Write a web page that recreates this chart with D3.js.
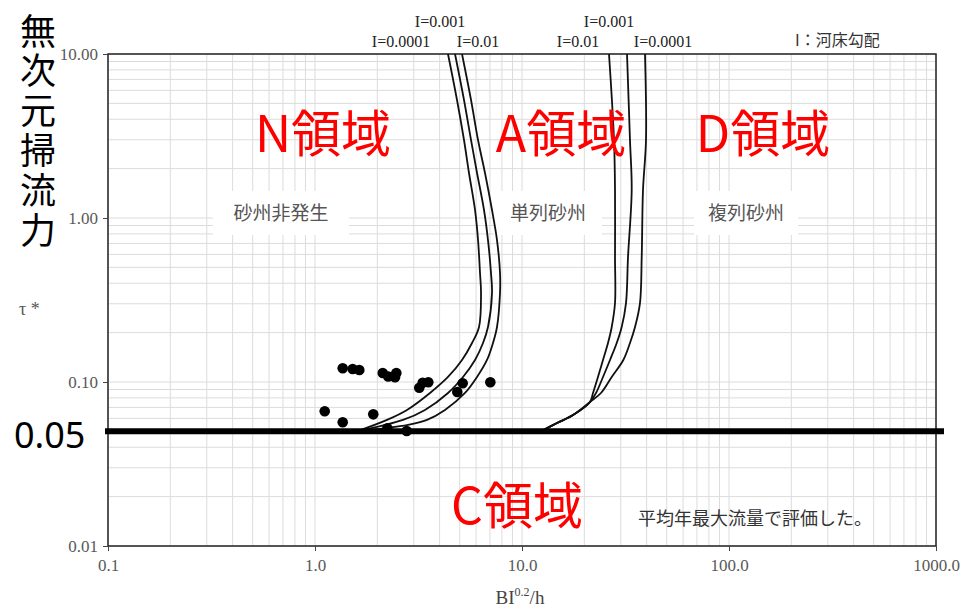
<!DOCTYPE html>
<html><head><meta charset="utf-8">
<script src="https://cdn.jsdelivr.net/npm/d3@7"></script>
<style>body{margin:0;background:#fff;} svg{display:block;}</style>
</head><body><svg id="chart" width="964" height="607"></svg>
<script>
// ---------- data ----------
const xTickValues = [0.1, 1, 10, 100, 1000];
const xTickLabels = ["0.1", "1.0", "10.0", "100.0", "1000.0"];
const yTickValues = [0.01, 0.1, 1, 10];
const yTickLabels = ["0.01", "0.10", "1.00", "10.00"];
const thresholdTau = 0.05;

// observed points (BI^0.2/h, tau*)
const pointsBI  = [1.114, 1.361, 1.361, 1.521, 1.637, 1.912, 2.124, 2.260, 2.471, 2.435, 2.236, 2.773, 3.190, 3.313, 3.527, 4.869, 5.170, 7.031];
const pointsTau = [0.0663, 0.0568, 0.1212, 0.1200, 0.1183, 0.0635, 0.1134, 0.1080, 0.1134, 0.1068, 0.0522, 0.0503, 0.0923, 0.0990, 0.0996, 0.0869, 0.0982, 0.0996];

// N / A boundary curves
const boundaryNA_I0001 = [[1.596,0.05],[2.228,0.0587],[2.782,0.0675],[3.594,0.0857],[4.39,0.1073],[5.131,0.1362],[5.736,0.1729],[6.200,0.2165],[6.339,0.349],[6.269,0.462],[6.132,0.734],[5.930,1.119],[5.546,1.881],[5.246,2.989],[4.853,5.243],[4.39,10]];
const boundaryNA_I001  = [[1.596,0.05],[2.661,0.0587],[3.399,0.0675],[4.39,0.0857],[5.188,0.1073],[5.930,0.1362],[6.481,0.1729],[6.850,0.2165],[7.163,0.349],[7.083,0.462],[6.850,0.734],[6.553,1.119],[6.064,1.881],[5.672,2.989],[5.246,5.243],[4.747,10]];
const boundaryNA_I01   = [[1.596,0.05],[2.814,0.0547],[3.476,0.0587],[4.246,0.0675],[5.304,0.0857],[6.064,0.1073],[6.775,0.1362],[7.242,0.1729],[7.572,0.2165],[7.830,0.349],[7.830,0.462],[7.572,0.734],[7.163,1.119],[6.626,1.881],[6.132,2.989],[5.672,5.243],[5.131,10]];

// A / D boundary curves
const boundaryAD_I01   = [[12.35,0.05],[14.76,0.0562],[17.64,0.0629],[21.30,0.0755],[22.03,0.0857],[23.28,0.1073],[24.62,0.1362],[26.03,0.1729],[27.13,0.2165],[28.14,0.303],[28.14,0.578],[28.14,1.482],[27.83,2.989],[26.32,10]];
const boundaryAD_I001  = [[12.35,0.05],[14.76,0.0562],[17.64,0.0629],[21.30,0.0755],[22.78,0.0857],[24.62,0.1073],[26.62,0.1362],[28.68,0.1729],[30.31,0.2165],[31.80,0.303],[32.52,0.578],[33.88,1.482],[33.24,2.989],[32.16,10]];
const boundaryAD_I0001 = [[12.35,0.05],[14.76,0.0562],[17.64,0.0629],[21.30,0.0755],[24.07,0.0857],[27.13,0.1073],[30.86,0.1362],[33.24,0.1729],[35.16,0.2165],[37.15,0.303],[37.87,0.578],[38.42,1.482],[39.72,2.989],[39.28,10]];

// ---------- drawing ----------
const svg = d3.select("#chart");
const W = 964, H = 607;
svg.append("rect").attr("width", W).attr("height", H).attr("fill", "#fff");

const x = d3.scaleLog().domain([0.1, 1000]).range([108, 936]);
const y = d3.scaleLog().domain([0.01, 10]).range([546, 54]);

const serif = "'Liberation Serif', 'DejaVu Serif', serif";
const cjk = "'Noto Sans CJK JP', 'Noto Sans', sans-serif";

// grid
const grid = svg.append("g");
grid.selectAll("line.vx").data(x.ticks()).join("line")
  .attr("x1", d => x(d)).attr("x2", d => x(d))
  .attr("y1", y(10)).attr("y2", y(0.01))
  .attr("stroke", "#dcdcdc").attr("stroke-width", 1);
grid.selectAll("line.hy").data(y.ticks()).join("line")
  .attr("x1", x(0.1)).attr("x2", x(1000))
  .attr("y1", d => y(d)).attr("y2", d => y(d))
  .attr("stroke", "#dcdcdc").attr("stroke-width", 1);

// white label boxes + gray labels
const boxLabels = [
  {t: "砂州非発生", cx: 281, w: 136},
  {t: "単列砂州", cx: 548, w: 108},
  {t: "複列砂州", cx: 746, w: 104}
];
boxLabels.forEach(b => {
  svg.append("rect").attr("x", b.cx - b.w / 2).attr("y", 191).attr("width", b.w).attr("height", 44).attr("fill", "#fff");
  svg.append("text").attr("x", b.cx).attr("y", 220).attr("text-anchor", "middle")
    .attr("font-family", cjk).attr("font-size", 19).attr("fill", "#555").text(b.t);
});

// frame
svg.append("rect").attr("x", x(0.1)).attr("y", y(10))
  .attr("width", x(1000) - x(0.1)).attr("height", y(0.01) - y(10))
  .attr("fill", "none").attr("stroke", "#222").attr("stroke-width", 1.5);

// axes ticks
const xAxis = d3.axisBottom(x).tickValues(xTickValues).tickSize(5).tickPadding(8)
  .tickFormat((d, i) => xTickLabels[i]);
const gx = svg.append("g").attr("transform", `translate(0,${y(0.01)})`).call(xAxis);
gx.select(".domain").remove();
gx.selectAll("line").attr("stroke", "#444");
gx.selectAll("text").attr("font-family", serif).attr("font-size", 17).attr("fill", "#595959");

const yAxis = d3.axisLeft(y).tickValues(yTickValues).tickSize(5).tickPadding(5)
  .tickFormat((d, i) => yTickLabels[i]);
const gy = svg.append("g").attr("transform", `translate(${x(0.1)},0)`).call(yAxis);
gy.select(".domain").remove();
gy.selectAll("line").attr("stroke", "#444");
gy.selectAll("text").attr("font-family", serif).attr("font-size", 17).attr("fill", "#595959");

// curves
const line = d3.line().x(d => x(d[0])).y(d => y(d[1])).curve(d3.curveCatmullRom.alpha(0.5));
[boundaryNA_I0001, boundaryNA_I001, boundaryNA_I01, boundaryAD_I01, boundaryAD_I001, boundaryAD_I0001]
  .forEach(c => svg.append("path").attr("d", line(c)).attr("fill", "none")
    .attr("stroke", "#111").attr("stroke-width", 1.8));

// points
svg.append("g").selectAll("circle").data(pointsBI).join("circle")
  .attr("cx", d => x(d)).attr("cy", (d, i) => y(pointsTau[i])).attr("r", 5.3).attr("fill", "#000");

// threshold line
svg.append("line").attr("x1", x(0.1) - 3).attr("x2", x(1000) + 8)
  .attr("y1", y(thresholdTau)).attr("y2", y(thresholdTau))
  .attr("stroke", "#000").attr("stroke-width", 6);

// slope labels
const slopeLabels = [
  {t: "I=0.0001", cx: 401, by: 47}, {t: "I=0.001", cx: 440, by: 27}, {t: "I=0.01", cx: 478, by: 47},
  {t: "I=0.01", cx: 578, by: 47}, {t: "I=0.001", cx: 609, by: 27}, {t: "I=0.0001", cx: 663, by: 47}
];
slopeLabels.forEach(s => svg.append("text").attr("x", s.cx).attr("y", s.by).attr("text-anchor", "middle")
  .attr("font-family", serif).attr("font-size", 16).attr("fill", "#222").text(s.t));
svg.append("text").attr("x", 795).attr("y", 46).attr("font-family", cjk).attr("font-size", 16)
  .attr("fill", "#333").text("I：河床勾配");

// region labels
const regions = [
  {t: "N領域", cx: 323, by: 152}, {t: "A領域", cx: 561, by: 152},
  {t: "D領域", cx: 763, by: 152}, {t: "C領域", cx: 517, by: 524}
];
regions.forEach(r => svg.append("text").attr("x", r.cx).attr("y", r.by).attr("text-anchor", "middle")
  .attr("font-family", cjk).attr("font-size", 50).attr("fill", "#ff0000").text(r.t));

// note
svg.append("text").attr("x", 638).attr("y", 525).attr("font-family", cjk).attr("font-size", 18)
  .attr("fill", "#333").text("平均年最大流量で評価した。");

// y-axis title (vertical, single text)
svg.append("text").attr("x", 38).attr("y", 13)
  .attr("writing-mode", "tb")
  .style("writing-mode", "vertical-rl")
  .attr("letter-spacing", 3.8)
  .attr("font-family", cjk).attr("font-size", 36).attr("fill", "#000").text("無次元掃流力");

svg.append("text").attr("x", 19).attr("y", 315).attr("font-family", serif).attr("font-size", 18)
  .attr("fill", "#555").text("τ *");

// 0.05 label
svg.append("text").attr("x", 14).attr("y", 448).attr("font-family", "'Noto Sans', sans-serif")
  .attr("font-size", 36).attr("fill", "#000").text("0.05");

// x-axis title
const xt = svg.append("text").attr("x", 520).attr("y", 604).attr("text-anchor", "middle")
  .attr("font-family", serif).attr("font-size", 19).attr("fill", "#444");
xt.append("tspan").text("BI");
xt.append("tspan").attr("dy", -8).attr("font-size", 12).text("0.2");
xt.append("tspan").attr("dy", 8).text("/h");
</script>
</body></html>
